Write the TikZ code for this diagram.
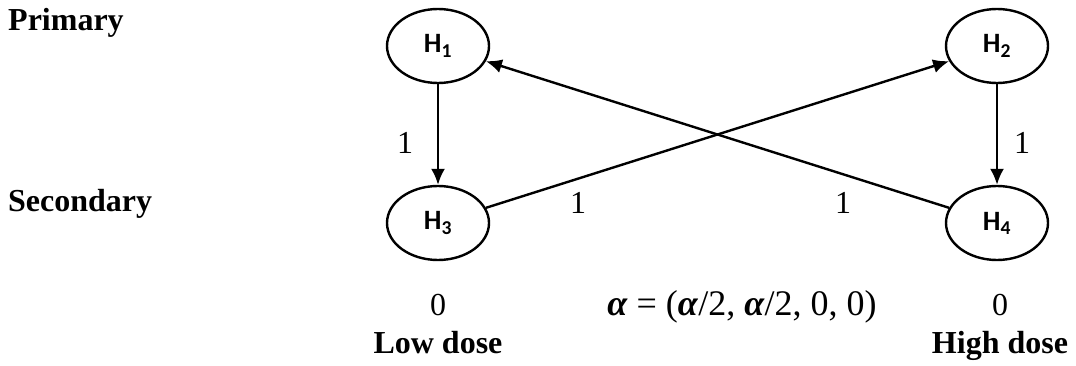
\documentclass[tikz,border=0pt]{standalone}
\usepackage{fontspec}
\setmainfont{Liberation Serif}
\newfontfamily\hypfont{Carlito}
\usetikzlibrary{arrows.meta,shapes.geometric}

\tikzset{
  hyp/.style={ellipse,draw=black,line width=2.4pt,minimum width=102pt,minimum height=74pt,inner sep=0pt,font=\hypfont\fontsize{28}{30}\selectfont\bfseries},
  lbl/.style={font=\fontsize{32}{36}\selectfont},
  bld/.style={font=\fontsize{32}{36}\selectfont\bfseries},
  edge/.style={line width=2.4pt,-{Latex[length=16pt,width=14pt]}}
}

\begin{document}
\begin{tikzpicture}[x=1pt,y=1pt]

\useasboundingbox (0,0) rectangle (1076,365);

\node[bld,anchor=base west,inner sep=0pt] (prim) at (8,334) {Primary};
\node[bld,anchor=base west,inner sep=0pt] (sec) at (8,154) {Secondary};

\node[hyp] (h1) at (438,319) {H\textsubscript{1}};
\node[hyp] (h2) at (997,319) {H\textsubscript{2}};
\node[hyp] (h3) at (438,142) {H\textsubscript{3}};
\node[hyp] (h4) at (997,142) {H\textsubscript{4}};

\draw[edge] (h1) -- (h3);
\draw[edge] (h2) -- (h4);
\draw[edge] (h3) -- (h2);
\draw[edge] (h4) -- (h1);

\node[lbl] (w13) at (405,222) {1};
\node[lbl] (w24) at (1022,222) {1};
\node[lbl] (w32) at (578,162) {1};
\node[lbl] (w41) at (843,162) {1};

\node[lbl,anchor=base] (a1) at (438,50) {0};
\node[lbl,anchor=base] (a2) at (1000,50) {0};
\node[lbl,anchor=base,font=\fontsize{36}{40}\selectfont] (alpha) at (742,50) {\textbf{\textit{α}} = (\textbf{\textit{α}}/2, \textbf{\textit{α}}/2, 0, 0)};

\node[bld,anchor=base] (low) at (438,12) {Low dose};
\node[bld,anchor=base] (high) at (1000,12) {High dose};

\end{tikzpicture}
\end{document}
